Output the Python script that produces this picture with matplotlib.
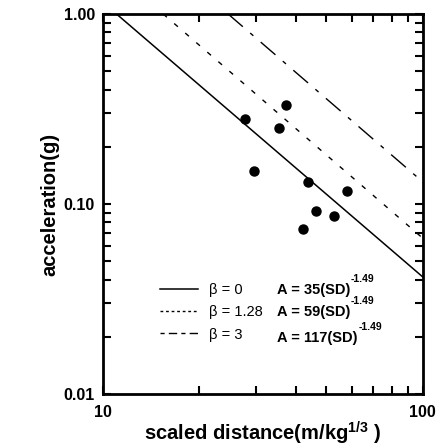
import matplotlib
matplotlib.use('Agg')
import matplotlib.pyplot as plt
from matplotlib.lines import Line2D
from matplotlib.ticker import LogLocator, NullFormatter, FixedLocator, FixedFormatter

plt.rcParams['font.family'] = ['Liberation Sans', 'DejaVu Sans']
plt.rcParams['mathtext.fontset'] = 'custom'
plt.rcParams['mathtext.rm'] = 'Liberation Sans'
plt.rcParams['mathtext.bf'] = 'Liberation Sans:bold'

# measured data (scaled distance, peak acceleration)
sd = [27.7, 37.3, 35.6, 29.7, 43.8, 57.9, 46.3, 52.9, 42.3]
acc = [0.280, 0.333, 0.252, 0.149, 0.131, 0.117, 0.0916, 0.0865, 0.0736]

# regression lines, end points
line_b0_x = [11.0, 100]
line_b0_y = [1.0, 0.0414]
line_b128_x = [15.4, 100]
line_b128_y = [1.0, 0.0662]
line_b3_x = [24.6, 100]
line_b3_y = [1.0, 0.131]

beta_labels = ['β = 0', 'β = 1.28', 'β = 3']
formulas = ['A = 35(SD)', 'A = 59(SD)', 'A = 117(SD)']
exponent = '-1.49'

dot_style = (0, (3.5, 7))
dash_style = (0, (14, 7, 3, 7))

fig = plt.figure(figsize=(4.42, 4.47), dpi=100)
ax = fig.add_axes([0.2337, 0.1186, 0.7223, 0.8501])

ax.plot(line_b0_x, line_b0_y, color='k', lw=1.1)
ax.plot(line_b128_x, line_b128_y, color='k', lw=1.0, linestyle=dot_style)
ax.plot(line_b3_x, line_b3_y, color='k', lw=1.0, linestyle=dash_style)
ax.plot(sd, acc, 'o', color='k', ms=6.5, zorder=3)

ax.set_xscale('log')
ax.set_yscale('log')
ax.set_xlim(10, 100)
ax.set_ylim(0.01, 1.0)

ax.xaxis.set_major_locator(FixedLocator([10, 100]))
ax.xaxis.set_major_formatter(FixedFormatter(['10', '100']))
ax.xaxis.set_minor_locator(LogLocator(base=10, subs=range(2, 10)))
ax.xaxis.set_minor_formatter(NullFormatter())
ax.yaxis.set_major_locator(FixedLocator([0.01, 0.1, 1.0]))
ax.yaxis.set_major_formatter(FixedFormatter(['0.01', '0.10', '1.00']))
ax.yaxis.set_minor_locator(LogLocator(base=10, subs=range(2, 10)))
ax.yaxis.set_minor_formatter(NullFormatter())

ax.tick_params(which='both', direction='in', top=True, right=True, width=1.5,
               labelsize=11.5, pad=6, length=6)
for lab in ax.get_xticklabels() + ax.get_yticklabels():
    lab.set_fontweight('bold')
ax.tick_params(axis='x', pad=8)
for s in ax.spines.values():
    s.set_linewidth(2.0)

ax.set_xlabel(r'scaled distance(m/kg$^{\mathbf{1/3}}$ )', fontsize=14.5, fontweight='bold',
              labelpad=0)
ax.set_ylabel('acceleration(g)', fontsize=14.5, fontweight='bold', labelpad=3)

handles = [Line2D([], [], color='k', lw=1.1),
           Line2D([], [], color='k', lw=1.0, linestyle=(0, (2, 2))),
           Line2D([], [], color='k', lw=1.0, linestyle=(0, (3, 3, 6, 3)))]
leg = ax.legend(handles, beta_labels, loc='upper left', bbox_to_anchor=(0.156, 0.31),
                frameon=False, fontsize=10.5, handlelength=2.55, handletextpad=0.8,
                labelspacing=0.55, borderpad=0)

# formulas on the same rows as the legend entries, exponent above the right end
fig.canvas.draw()
renderer = fig.canvas.get_renderer()
inv = ax.transAxes.inverted()
form_x = 0.543
drop = [0, 0, 3]
for f, lt, d in zip(formulas, leg.get_texts(), drop):
    lb = lt.get_window_extent(renderer)
    _, fy = inv.transform((0, (lb.y0 + lb.y1) / 2 - d))
    t = ax.text(form_x, fy, f, transform=ax.transAxes, fontsize=10.5,
                fontweight='bold', va='center', ha='left')
    bb = t.get_window_extent(renderer)
    ex, ey = inv.transform((bb.x1 + 1, bb.y1 - 1))
    ax.text(ex, ey, exponent, transform=ax.transAxes, fontsize=7.5,
            fontweight='bold', ha='left', va='bottom')

fig.savefig('out.png', dpi=100)
